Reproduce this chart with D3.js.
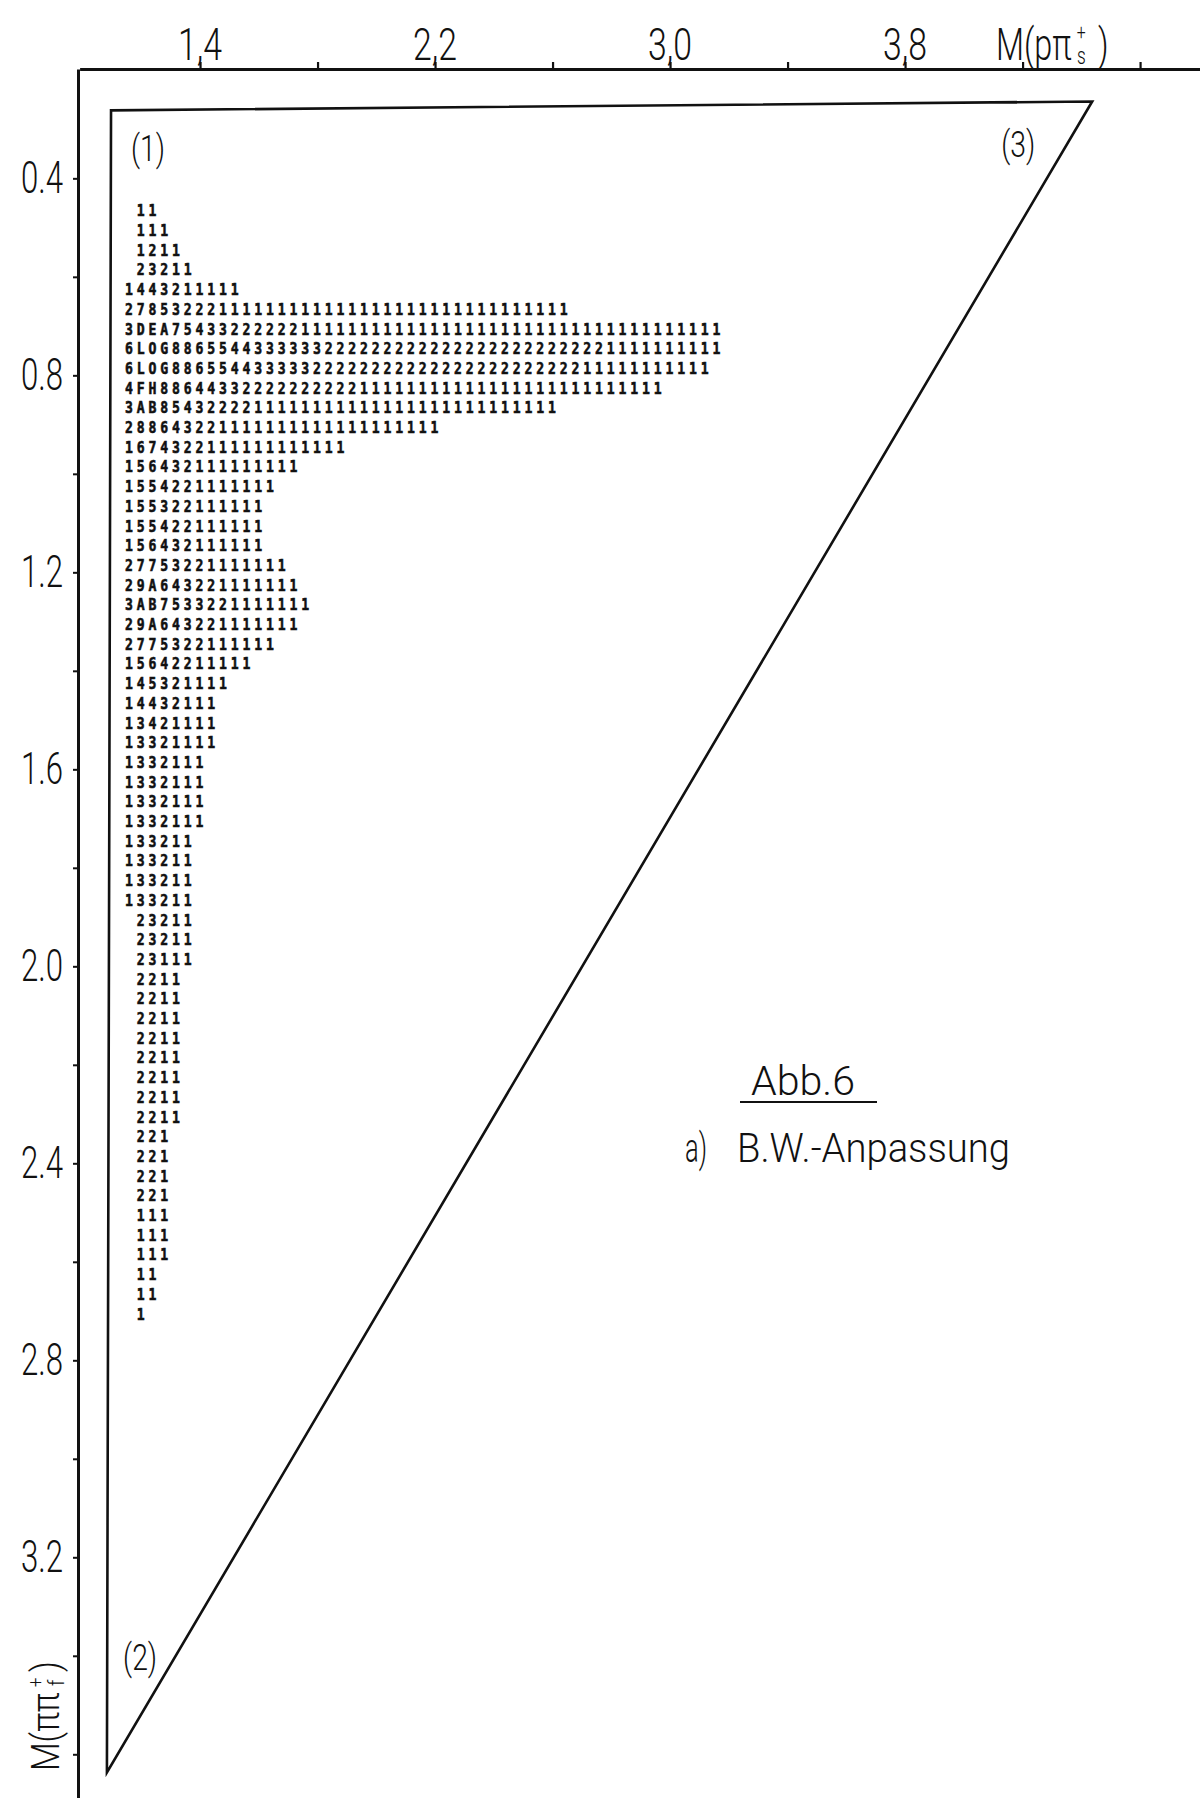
<!DOCTYPE html>
<html><head><meta charset="utf-8">
<script src="https://cdn.jsdelivr.net/npm/d3@7"></script>
<style>body{margin:0;background:#fff}svg{display:block}</style>
</head><body><svg id="c" width="1200" height="1798"></svg>
<script>
// ---- data ----
const xTickValues = [1.4, 1.8, 2.2, 2.6, 3.0, 3.4, 3.8, 4.2, 4.6];
const xTickLabels = ["1,4", "", "2,2", "", "3,0", "", "3,8", "", ""];
const yTickValues = [0.4, 0.6, 0.8, 1.0, 1.2, 1.4, 1.6, 1.8, 2.0, 2.2, 2.4, 2.6, 2.8, 3.0, 3.2, 3.4, 3.6];
const yTickLabels = ["0.4", "", "0.8", "", "1.2", "", "1.6", "", "2.0", "", "2.4", "", "2.8", "", "3.2", "", ""];
const rowOffsets = [1,1,1,1,0, 0,0,0,0,0, 0,0,0,0,0, 0,0,0,0,0, 0,0,0,0,0, 0,0,0,0,0, 0,0,0,0,0, 0,1,1,1,1, 1,1,1,1,1, 1,1,1,1,1, 1,1,1,1,1, 1,1];
const rowCells = [
  "11",
  "111",
  "1211",
  "23211",
  "1443211111",
  "27853222" + "1".repeat(30),
  "3DEA75433222222" + "1".repeat(36),
  "6LOG8865544333333" + "2".repeat(24) + "1".repeat(10),
  "6LOG886554433333" + "2".repeat(23) + "1".repeat(11),
  "4FH8864433" + "2".repeat(10) + "1".repeat(26),
  "3AB85432222" + "1".repeat(26),
  "28864322" + "1".repeat(19),
  "1674322" + "1".repeat(12),
  "156432111111111",
  "1554221111111",
  "155322111111",
  "155422111111",
  "156432111111",
  "27753221111111",
  "29A643221111111",
  "3AB7533221111111",
  "29A643221111111",
  "2775322111111",
  "15642211111",
  "145321111",
  "14432111",
  "13421111",
  "13321111",
  "1332111",
  "1332111",
  "1332111",
  "1332111",
  "133211",
  "133211",
  "133211",
  "133211",
  "23211",
  "23211",
  "23111",
  "2211","2211","2211","2211","2211","2211","2211","2211",
  "221","221","221","221",
  "111","111","111",
  "11","11",
  "1"
];
const rowMassStart = 0.465;   // M(pi pi) of first row
const colMassStart = 1.158;   // M(p pi) of first column
const binWidth = 0.04;
const boundary = [[1.097, 0.262], [4.437, 0.244], [1.083, 3.637]];
const cornerLabels = [["(1)", 1.223, 0.341], ["(3)", 4.185, 0.333], ["(2)", 1.196, 3.405]];

// ---- scales ----
const svg = d3.select("#c");
const x = d3.scaleLinear().domain([0.99, 4.804]).range([79.6, 1200]);
const y = d3.scaleLinear().domain([0.178, 3.705]).range([69, 1806]);
const font = "Roboto, 'DejaVu Sans', sans-serif";
const ink = "#111";

function txt(g, px, py, s, size, anchor, len) {
  const t = g.append("text").attr("x", px).attr("y", py)
    .attr("text-anchor", anchor || "middle")
    .style("font-family", font).style("font-size", size + "px")
    .style("font-weight", 300).attr("fill", ink).text(s);
  if (len) t.attr("textLength", len).attr("lengthAdjust", "spacingAndGlyphs");
  return t;
}

// top axis
const xAxis = d3.axisTop(x).tickValues(xTickValues).tickSize(7).tickSizeOuter(0).tickFormat("");
const gx = svg.append("g").attr("transform", "translate(0,69)").call(xAxis);
gx.select(".domain").attr("stroke", ink).attr("stroke-width", 3);
gx.selectAll(".tick line").attr("stroke", ink).attr("stroke-width", 2.2);
xTickValues.forEach((v, i) => {
  if (xTickLabels[i]) txt(svg, x(v), 60, xTickLabels[i], 45, "middle", 44);
});
// top title M(pπ_s^+) as one text element
const tt = svg.append("text").attr("transform", "translate(996,60) scale(0.72,1)")
  .style("font-family", font).style("font-size", "45px").style("font-weight", 300).attr("fill", ink);
tt.append("tspan").text("M(pπ");
tt.append("tspan").attr("dx", 7).attr("dy", -20).style("font-size", "22px").text("+");
tt.append("tspan").attr("dx", -12).attr("dy", 24).style("font-size", "24px").text("s");
tt.append("tspan").attr("dx", 17).attr("dy", -4).text(")");

// left axis
const yAxis = d3.axisLeft(y).tickValues(yTickValues).tickSize(5).tickSizeOuter(0).tickFormat("");
const gy = svg.append("g").attr("transform", "translate(78,0)").call(yAxis);
gy.select(".domain").attr("stroke", ink).attr("stroke-width", 3);
gy.selectAll(".tick line").attr("stroke", ink).attr("stroke-width", 2);
yTickValues.forEach((v, i) => {
  if (yTickLabels[i]) txt(svg, 63, y(v) + 15, yTickLabels[i], 44, "end", 42);
});
// left title (rotated) M(ππ_f^+) as one text element
const lt = svg.append("text").attr("transform", "translate(59,1771) rotate(-90) scale(0.87,1)")
  .style("font-family", font).style("font-size", "38px").style("font-weight", 300).attr("fill", ink);
lt.append("tspan").text("M(ππ");
lt.append("tspan").attr("dx", 6).attr("dy", -17).style("font-size", "20px").text("+");
lt.append("tspan").attr("dx", -10).attr("dy", 22).style("font-size", "22px").text("f");
lt.append("tspan").attr("dx", 9).attr("dy", -5).text(")");

// boundary triangle
svg.append("path")
  .attr("d", d3.line().x(d => x(d[0])).y(d => y(d[1]))(boundary) + "Z")
  .attr("fill", "none").attr("stroke", ink).attr("stroke-width", 2.6).attr("stroke-linejoin", "miter");

cornerLabels.forEach(c => txt(svg, x(c[1]), y(c[2]) + 12, c[0], 36, "middle", 34));

// density characters
const gc = svg.append("g")
  .style("font-family", "'DejaVu Sans Mono', 'Liberation Mono', monospace")
  .style("font-weight", "bold").style("font-size", "16px")
  .attr("fill", ink).attr("stroke", ink).attr("stroke-width", 0.6);
rowCells.forEach((row, j) => {
  const ym = rowMassStart + j * binWidth;
  row.split("").forEach((ch, k) => {
    const xm = colMassStart + (rowOffsets[j] + k) * binWidth;
    gc.append("text").attr("transform", `translate(${x(xm)},${y(ym)}) scale(0.82,1)`)
      .attr("text-anchor", "middle").attr("dominant-baseline", "central").text(ch);
  });
});

// caption
txt(svg, 803, 1095, "Abb.6", 40, "middle", 104);
svg.append("line").attr("x1", 740).attr("x2", 877).attr("y1", 1102).attr("y2", 1102)
  .attr("stroke", ink).attr("stroke-width", 2.2);
txt(svg, 685, 1162, "a)", 40, "start", 22);
txt(svg, 737, 1162, "B.W.-Anpassung", 40, "start", 273);
</script>
</body></html>
